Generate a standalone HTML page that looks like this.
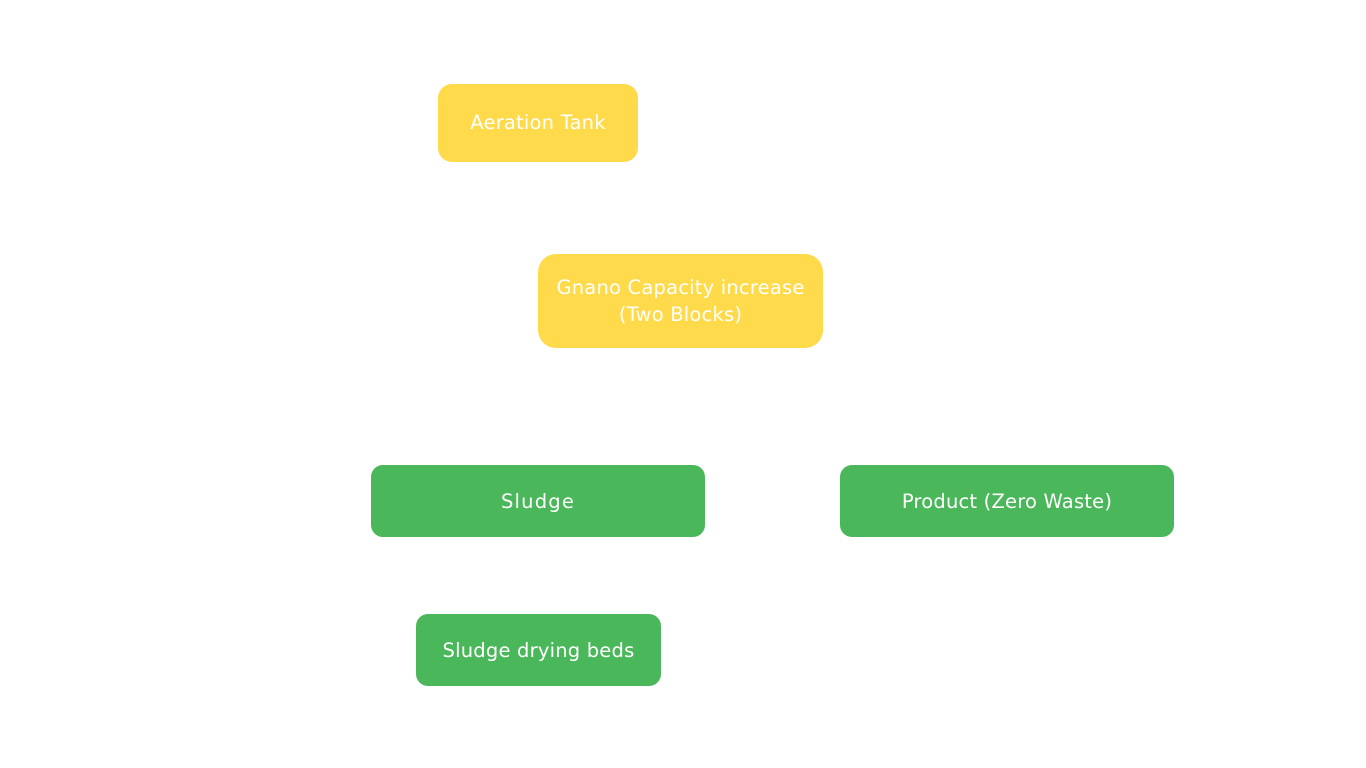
<!DOCTYPE html>
<html><head><meta charset="utf-8"><style>
body{margin:0;width:1366px;height:768px;background:#fff;position:relative;overflow:hidden;font-family:"DejaVu Sans","Liberation Sans",sans-serif;}
.b{position:absolute;display:flex;align-items:center;justify-content:center;text-align:center;color:#fff;font-size:19.5px;line-height:27px;letter-spacing:0.2px}
.y{background:#FFDA4B}
.g{background:#4BB75B}
</style></head><body>
<div class="b y" style="left:438px;top:84px;width:200px;height:78px;border-radius:14px;padding-bottom:2px;box-sizing:border-box">Aeration Tank</div>
<div class="b y" style="left:538px;top:254px;width:285px;height:94px;border-radius:18px">Gnano Capacity increase<br>(Two Blocks)</div>
<div class="b g" style="left:371px;top:465px;width:334px;height:72px;border-radius:12px;letter-spacing:1.2px">Sludge</div>
<div class="b g" style="left:840px;top:465px;width:334px;height:72px;border-radius:12px">Product (Zero Waste)</div>
<div class="b g" style="left:416px;top:614px;width:245px;height:72px;border-radius:12px">Sludge drying beds</div>
</body></html>
